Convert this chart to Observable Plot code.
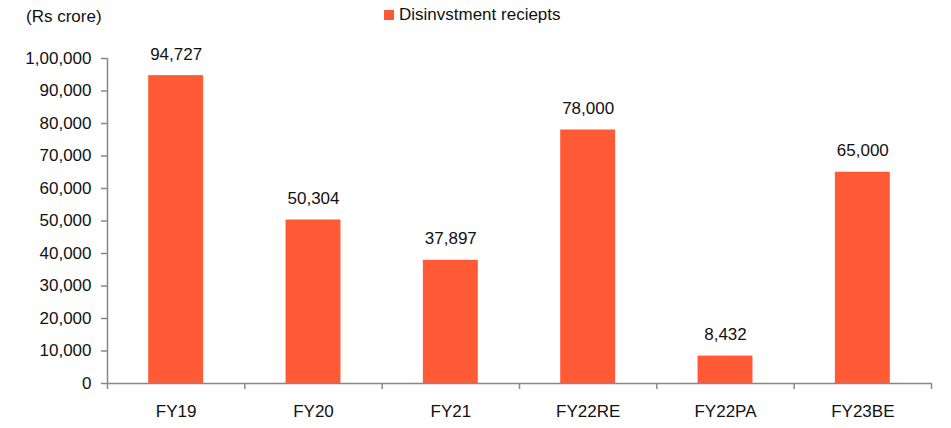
<!DOCTYPE html>
<html>
<head>
<meta charset="utf-8">
<script src="https://cdn.jsdelivr.net/npm/d3@7"></script>
<script src="https://cdn.jsdelivr.net/npm/@observablehq/plot@0.6"></script>
<style>
  html, body { margin: 0; padding: 0; background: #fff; }
  body { width: 951px; height: 428px; overflow: hidden; font-family: "Liberation Sans", Arial, sans-serif; color: #111; }
  #header { position: relative; height: 32px; font-size: 17px; line-height: 17px; }
  #unit { position: absolute; left: 26px; top: 8px; }
  #legend { position: absolute; left: 384px; top: 6px; display: flex; align-items: center; }
  #legend .sw { width: 10px; height: 10px; background: #FF5A35; margin-right: 5px; }
  #chart svg { display: block; }
</style>
</head>
<body>
<div id="header">
  <div id="unit"></div>
  <div id="legend"><span class="sw"></span><span id="legendLabel"></span></div>
</div>
<div id="chart"></div>
<script>
// ---- data ----
const unitLabel = "(Rs crore)";
const seriesName = "Disinvstment reciepts";
const categories = ["FY19", "FY20", "FY21", "FY22RE", "FY22PA", "FY23BE"];
const values = [94727, 50304, 37897, 78000, 8432, 65000];
const yTicks = [0, 10000, 20000, 30000, 40000, 50000, 60000, 70000, 80000, 90000, 100000];

// ---- helpers ----
function inr(n) {
  const s = String(Math.round(n));
  if (s.length <= 3) return s;
  const last3 = s.slice(-3);
  const rest = s.slice(0, -3).replace(/\B(?=(\d{2})+(?!\d))/g, ",");
  return rest + "," + last3;
}

document.getElementById("unit").textContent = unitLabel;
document.getElementById("legendLabel").textContent = seriesName;

const barColor = "#FF5A35";
const axisColor = "#888888";
const textColor = "#111111";

const data = categories.map((c, i) => ({ cat: c, i, value: values[i] }));
const boundaries = d3.range(categories.length + 1);
const centers = categories.map((c, i) => i + 0.5);

const chart = Plot.plot({
  width: 951,
  height: 396,
  marginLeft: 107,
  marginRight: 20,
  marginTop: 26,
  marginBottom: 45,
  style: { fontFamily: "'Liberation Sans', Arial, sans-serif", fontSize: "17px", color: textColor, background: "#fff" },
  x: { domain: [0, categories.length], axis: null },
  y: { domain: [0, 100000], axis: null },
  marks: [
    Plot.rectY(data, { x1: d => d.i + 0.3, x2: d => d.i + 0.7, y1: 0, y2: "value", fill: barColor }),
    Plot.ruleY([0], { stroke: axisColor, strokeWidth: 1.5 }),
    Plot.ruleX([0], { y1: 0, y2: 100000, stroke: axisColor, strokeWidth: 1.5 }),
    Plot.axisY({ ticks: yTicks, tickSize: 6, tickPadding: 10, tickFormat: inr, label: null, stroke: axisColor, strokeWidth: 1.5, fill: textColor }),
    Plot.axisX({ ticks: boundaries, tickSize: 6, tickFormat: () => "", label: null, stroke: axisColor, strokeWidth: 1.5 }),
    Plot.axisX({ ticks: centers, tickSize: 0, tickPadding: 21, tickFormat: d => categories[Math.floor(d)], label: null, fill: textColor }),
    Plot.text(data, { x: d => d.i + 0.5, y: "value", text: d => inr(d.value), dy: -16, lineAnchor: "bottom", fill: textColor, fontSize: 17 })
  ]
});
document.getElementById("chart").appendChild(chart);
</script>
</body>
</html>
